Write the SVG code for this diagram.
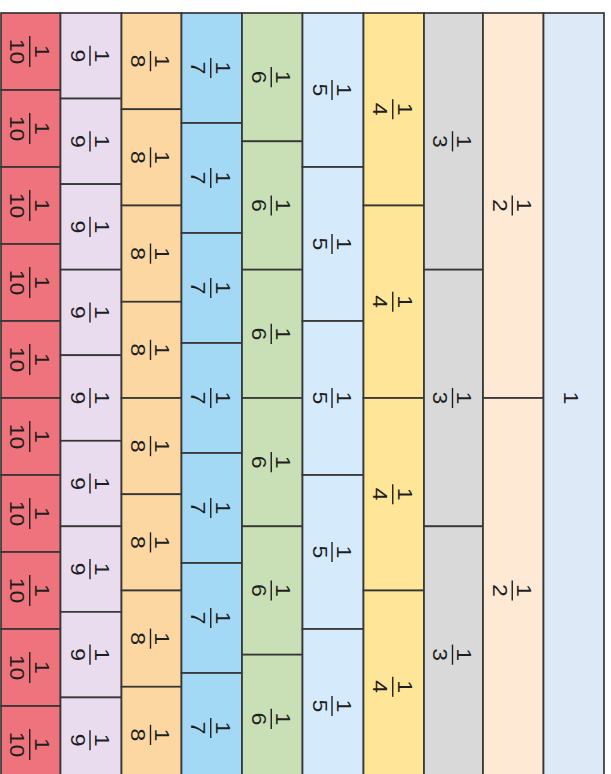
<svg xmlns="http://www.w3.org/2000/svg" width="611" height="774" viewBox="0 0 611 774">
<style>
rect{stroke:#363636;stroke-width:1.7}
.f10{fill:#EE737C}.f9{fill:#E8DCEE}.f8{fill:#FDD7A2}.f7{fill:#A3D9F5}.f6{fill:#C9DFB5}
.f5{fill:#D5EBFB}.f4{fill:#FEE597}.f3{fill:#D9D9D9}.f2{fill:#FEEAD4}.f1{fill:#DEE9F7}
text{font-family:"Liberation Sans",Arial,sans-serif;font-size:20px;text-anchor:middle;fill:#1e1e1e}
.bar{stroke:#1e1e1e;stroke-width:1.4}
</style>
<rect width="611" height="774" fill="#ffffff" style="stroke:none"/>
<g id="col10">
<g id="c10-1"><rect class="f10" x="1" y="13" width="59.5" height="77"/><g transform="translate(30.75,51.5) rotate(90) scale(1.15,1)"><line class="bar" x1="-13.5" y1="1" x2="13.5" y2="1"/><text y="-4">1</text><text y="20.5">10</text></g></g>
<g id="c10-2"><rect class="f10" x="1" y="90" width="59.5" height="77"/><g transform="translate(30.75,128.5) rotate(90) scale(1.15,1)"><line class="bar" x1="-13.5" y1="1" x2="13.5" y2="1"/><text y="-4">1</text><text y="20.5">10</text></g></g>
<g id="c10-3"><rect class="f10" x="1" y="167" width="59.5" height="77"/><g transform="translate(30.75,205.5) rotate(90) scale(1.15,1)"><line class="bar" x1="-13.5" y1="1" x2="13.5" y2="1"/><text y="-4">1</text><text y="20.5">10</text></g></g>
<g id="c10-4"><rect class="f10" x="1" y="244" width="59.5" height="77"/><g transform="translate(30.75,282.5) rotate(90) scale(1.15,1)"><line class="bar" x1="-13.5" y1="1" x2="13.5" y2="1"/><text y="-4">1</text><text y="20.5">10</text></g></g>
<g id="c10-5"><rect class="f10" x="1" y="321" width="59.5" height="77"/><g transform="translate(30.75,359.5) rotate(90) scale(1.15,1)"><line class="bar" x1="-13.5" y1="1" x2="13.5" y2="1"/><text y="-4">1</text><text y="20.5">10</text></g></g>
<g id="c10-6"><rect class="f10" x="1" y="398" width="59.5" height="77"/><g transform="translate(30.75,436.5) rotate(90) scale(1.15,1)"><line class="bar" x1="-13.5" y1="1" x2="13.5" y2="1"/><text y="-4">1</text><text y="20.5">10</text></g></g>
<g id="c10-7"><rect class="f10" x="1" y="475" width="59.5" height="77"/><g transform="translate(30.75,513.5) rotate(90) scale(1.15,1)"><line class="bar" x1="-13.5" y1="1" x2="13.5" y2="1"/><text y="-4">1</text><text y="20.5">10</text></g></g>
<g id="c10-8"><rect class="f10" x="1" y="552" width="59.5" height="77"/><g transform="translate(30.75,590.5) rotate(90) scale(1.15,1)"><line class="bar" x1="-13.5" y1="1" x2="13.5" y2="1"/><text y="-4">1</text><text y="20.5">10</text></g></g>
<g id="c10-9"><rect class="f10" x="1" y="629" width="59.5" height="77"/><g transform="translate(30.75,667.5) rotate(90) scale(1.15,1)"><line class="bar" x1="-13.5" y1="1" x2="13.5" y2="1"/><text y="-4">1</text><text y="20.5">10</text></g></g>
<g id="c10-10"><rect class="f10" x="1" y="706" width="59.5" height="77"/><g transform="translate(30.75,744.5) rotate(90) scale(1.15,1)"><line class="bar" x1="-13.5" y1="1" x2="13.5" y2="1"/><text y="-4">1</text><text y="20.5">10</text></g></g>
</g>
<g id="col9">
<g id="c9-1"><rect class="f9" x="60.5" y="13" width="61" height="85.56"/><g transform="translate(91,55.78) rotate(90) scale(1.15,1)"><line class="bar" x1="-8.75" y1="1" x2="8.75" y2="1"/><text y="-4">1</text><text y="20.5">9</text></g></g>
<g id="c9-2"><rect class="f9" x="60.5" y="98.56" width="61" height="85.56"/><g transform="translate(91,141.33) rotate(90) scale(1.15,1)"><line class="bar" x1="-8.75" y1="1" x2="8.75" y2="1"/><text y="-4">1</text><text y="20.5">9</text></g></g>
<g id="c9-3"><rect class="f9" x="60.5" y="184.11" width="61" height="85.56"/><g transform="translate(91,226.89) rotate(90) scale(1.15,1)"><line class="bar" x1="-8.75" y1="1" x2="8.75" y2="1"/><text y="-4">1</text><text y="20.5">9</text></g></g>
<g id="c9-4"><rect class="f9" x="60.5" y="269.67" width="61" height="85.56"/><g transform="translate(91,312.44) rotate(90) scale(1.15,1)"><line class="bar" x1="-8.75" y1="1" x2="8.75" y2="1"/><text y="-4">1</text><text y="20.5">9</text></g></g>
<g id="c9-5"><rect class="f9" x="60.5" y="355.22" width="61" height="85.56"/><g transform="translate(91,398) rotate(90) scale(1.15,1)"><line class="bar" x1="-8.75" y1="1" x2="8.75" y2="1"/><text y="-4">1</text><text y="20.5">9</text></g></g>
<g id="c9-6"><rect class="f9" x="60.5" y="440.78" width="61" height="85.56"/><g transform="translate(91,483.56) rotate(90) scale(1.15,1)"><line class="bar" x1="-8.75" y1="1" x2="8.75" y2="1"/><text y="-4">1</text><text y="20.5">9</text></g></g>
<g id="c9-7"><rect class="f9" x="60.5" y="526.33" width="61" height="85.56"/><g transform="translate(91,569.11) rotate(90) scale(1.15,1)"><line class="bar" x1="-8.75" y1="1" x2="8.75" y2="1"/><text y="-4">1</text><text y="20.5">9</text></g></g>
<g id="c9-8"><rect class="f9" x="60.5" y="611.89" width="61" height="85.56"/><g transform="translate(91,654.67) rotate(90) scale(1.15,1)"><line class="bar" x1="-8.75" y1="1" x2="8.75" y2="1"/><text y="-4">1</text><text y="20.5">9</text></g></g>
<g id="c9-9"><rect class="f9" x="60.5" y="697.44" width="61" height="85.56"/><g transform="translate(91,740.22) rotate(90) scale(1.15,1)"><line class="bar" x1="-8.75" y1="1" x2="8.75" y2="1"/><text y="-4">1</text><text y="20.5">9</text></g></g>
</g>
<g id="col8">
<g id="c8-1"><rect class="f8" x="121.5" y="13" width="60" height="96.25"/><g transform="translate(151.5,61.13) rotate(90) scale(1.15,1)"><line class="bar" x1="-8.75" y1="1" x2="8.75" y2="1"/><text y="-4">1</text><text y="20.5">8</text></g></g>
<g id="c8-2"><rect class="f8" x="121.5" y="109.25" width="60" height="96.25"/><g transform="translate(151.5,157.38) rotate(90) scale(1.15,1)"><line class="bar" x1="-8.75" y1="1" x2="8.75" y2="1"/><text y="-4">1</text><text y="20.5">8</text></g></g>
<g id="c8-3"><rect class="f8" x="121.5" y="205.5" width="60" height="96.25"/><g transform="translate(151.5,253.63) rotate(90) scale(1.15,1)"><line class="bar" x1="-8.75" y1="1" x2="8.75" y2="1"/><text y="-4">1</text><text y="20.5">8</text></g></g>
<g id="c8-4"><rect class="f8" x="121.5" y="301.75" width="60" height="96.25"/><g transform="translate(151.5,349.88) rotate(90) scale(1.15,1)"><line class="bar" x1="-8.75" y1="1" x2="8.75" y2="1"/><text y="-4">1</text><text y="20.5">8</text></g></g>
<g id="c8-5"><rect class="f8" x="121.5" y="398" width="60" height="96.25"/><g transform="translate(151.5,446.13) rotate(90) scale(1.15,1)"><line class="bar" x1="-8.75" y1="1" x2="8.75" y2="1"/><text y="-4">1</text><text y="20.5">8</text></g></g>
<g id="c8-6"><rect class="f8" x="121.5" y="494.25" width="60" height="96.25"/><g transform="translate(151.5,542.38) rotate(90) scale(1.15,1)"><line class="bar" x1="-8.75" y1="1" x2="8.75" y2="1"/><text y="-4">1</text><text y="20.5">8</text></g></g>
<g id="c8-7"><rect class="f8" x="121.5" y="590.5" width="60" height="96.25"/><g transform="translate(151.5,638.63) rotate(90) scale(1.15,1)"><line class="bar" x1="-8.75" y1="1" x2="8.75" y2="1"/><text y="-4">1</text><text y="20.5">8</text></g></g>
<g id="c8-8"><rect class="f8" x="121.5" y="686.75" width="60" height="96.25"/><g transform="translate(151.5,734.88) rotate(90) scale(1.15,1)"><line class="bar" x1="-8.75" y1="1" x2="8.75" y2="1"/><text y="-4">1</text><text y="20.5">8</text></g></g>
</g>
<g id="col7">
<g id="c7-1"><rect class="f7" x="181.5" y="13" width="60.5" height="110"/><g transform="translate(211.75,68) rotate(90) scale(1.15,1)"><line class="bar" x1="-8.75" y1="1" x2="8.75" y2="1"/><text y="-4">1</text><text y="20.5">7</text></g></g>
<g id="c7-2"><rect class="f7" x="181.5" y="123" width="60.5" height="110"/><g transform="translate(211.75,178) rotate(90) scale(1.15,1)"><line class="bar" x1="-8.75" y1="1" x2="8.75" y2="1"/><text y="-4">1</text><text y="20.5">7</text></g></g>
<g id="c7-3"><rect class="f7" x="181.5" y="233" width="60.5" height="110"/><g transform="translate(211.75,288) rotate(90) scale(1.15,1)"><line class="bar" x1="-8.75" y1="1" x2="8.75" y2="1"/><text y="-4">1</text><text y="20.5">7</text></g></g>
<g id="c7-4"><rect class="f7" x="181.5" y="343" width="60.5" height="110"/><g transform="translate(211.75,398) rotate(90) scale(1.15,1)"><line class="bar" x1="-8.75" y1="1" x2="8.75" y2="1"/><text y="-4">1</text><text y="20.5">7</text></g></g>
<g id="c7-5"><rect class="f7" x="181.5" y="453" width="60.5" height="110"/><g transform="translate(211.75,508) rotate(90) scale(1.15,1)"><line class="bar" x1="-8.75" y1="1" x2="8.75" y2="1"/><text y="-4">1</text><text y="20.5">7</text></g></g>
<g id="c7-6"><rect class="f7" x="181.5" y="563" width="60.5" height="110"/><g transform="translate(211.75,618) rotate(90) scale(1.15,1)"><line class="bar" x1="-8.75" y1="1" x2="8.75" y2="1"/><text y="-4">1</text><text y="20.5">7</text></g></g>
<g id="c7-7"><rect class="f7" x="181.5" y="673" width="60.5" height="110"/><g transform="translate(211.75,728) rotate(90) scale(1.15,1)"><line class="bar" x1="-8.75" y1="1" x2="8.75" y2="1"/><text y="-4">1</text><text y="20.5">7</text></g></g>
</g>
<g id="col6">
<g id="c6-1"><rect class="f6" x="242" y="13" width="60.5" height="128.33"/><g transform="translate(272.25,77.17) rotate(90) scale(1.15,1)"><line class="bar" x1="-8.75" y1="1" x2="8.75" y2="1"/><text y="-4">1</text><text y="20.5">6</text></g></g>
<g id="c6-2"><rect class="f6" x="242" y="141.33" width="60.5" height="128.33"/><g transform="translate(272.25,205.5) rotate(90) scale(1.15,1)"><line class="bar" x1="-8.75" y1="1" x2="8.75" y2="1"/><text y="-4">1</text><text y="20.5">6</text></g></g>
<g id="c6-3"><rect class="f6" x="242" y="269.67" width="60.5" height="128.33"/><g transform="translate(272.25,333.83) rotate(90) scale(1.15,1)"><line class="bar" x1="-8.75" y1="1" x2="8.75" y2="1"/><text y="-4">1</text><text y="20.5">6</text></g></g>
<g id="c6-4"><rect class="f6" x="242" y="398" width="60.5" height="128.33"/><g transform="translate(272.25,462.17) rotate(90) scale(1.15,1)"><line class="bar" x1="-8.75" y1="1" x2="8.75" y2="1"/><text y="-4">1</text><text y="20.5">6</text></g></g>
<g id="c6-5"><rect class="f6" x="242" y="526.33" width="60.5" height="128.33"/><g transform="translate(272.25,590.5) rotate(90) scale(1.15,1)"><line class="bar" x1="-8.75" y1="1" x2="8.75" y2="1"/><text y="-4">1</text><text y="20.5">6</text></g></g>
<g id="c6-6"><rect class="f6" x="242" y="654.67" width="60.5" height="128.33"/><g transform="translate(272.25,718.83) rotate(90) scale(1.15,1)"><line class="bar" x1="-8.75" y1="1" x2="8.75" y2="1"/><text y="-4">1</text><text y="20.5">6</text></g></g>
</g>
<g id="col5">
<g id="c5-1"><rect class="f5" x="302.5" y="13" width="61" height="154"/><g transform="translate(333,90) rotate(90) scale(1.15,1)"><line class="bar" x1="-8.75" y1="1" x2="8.75" y2="1"/><text y="-4">1</text><text y="20.5">5</text></g></g>
<g id="c5-2"><rect class="f5" x="302.5" y="167" width="61" height="154"/><g transform="translate(333,244) rotate(90) scale(1.15,1)"><line class="bar" x1="-8.75" y1="1" x2="8.75" y2="1"/><text y="-4">1</text><text y="20.5">5</text></g></g>
<g id="c5-3"><rect class="f5" x="302.5" y="321" width="61" height="154"/><g transform="translate(333,398) rotate(90) scale(1.15,1)"><line class="bar" x1="-8.75" y1="1" x2="8.75" y2="1"/><text y="-4">1</text><text y="20.5">5</text></g></g>
<g id="c5-4"><rect class="f5" x="302.5" y="475" width="61" height="154"/><g transform="translate(333,552) rotate(90) scale(1.15,1)"><line class="bar" x1="-8.75" y1="1" x2="8.75" y2="1"/><text y="-4">1</text><text y="20.5">5</text></g></g>
<g id="c5-5"><rect class="f5" x="302.5" y="629" width="61" height="154"/><g transform="translate(333,706) rotate(90) scale(1.15,1)"><line class="bar" x1="-8.75" y1="1" x2="8.75" y2="1"/><text y="-4">1</text><text y="20.5">5</text></g></g>
</g>
<g id="col4">
<g id="c4-1"><rect class="f4" x="363.5" y="13" width="60.5" height="192.5"/><g transform="translate(393.75,109.25) rotate(90) scale(1.15,1)"><line class="bar" x1="-8.75" y1="1" x2="8.75" y2="1"/><text y="-4">1</text><text y="20.5">4</text></g></g>
<g id="c4-2"><rect class="f4" x="363.5" y="205.5" width="60.5" height="192.5"/><g transform="translate(393.75,301.75) rotate(90) scale(1.15,1)"><line class="bar" x1="-8.75" y1="1" x2="8.75" y2="1"/><text y="-4">1</text><text y="20.5">4</text></g></g>
<g id="c4-3"><rect class="f4" x="363.5" y="398" width="60.5" height="192.5"/><g transform="translate(393.75,494.25) rotate(90) scale(1.15,1)"><line class="bar" x1="-8.75" y1="1" x2="8.75" y2="1"/><text y="-4">1</text><text y="20.5">4</text></g></g>
<g id="c4-4"><rect class="f4" x="363.5" y="590.5" width="60.5" height="192.5"/><g transform="translate(393.75,686.75) rotate(90) scale(1.15,1)"><line class="bar" x1="-8.75" y1="1" x2="8.75" y2="1"/><text y="-4">1</text><text y="20.5">4</text></g></g>
</g>
<g id="col3">
<g id="c3-1"><rect class="f3" x="424" y="13" width="59" height="256.67"/><g transform="translate(453.5,141.33) rotate(90) scale(1.15,1)"><line class="bar" x1="-8.75" y1="1" x2="8.75" y2="1"/><text y="-4">1</text><text y="20.5">3</text></g></g>
<g id="c3-2"><rect class="f3" x="424" y="269.67" width="59" height="256.67"/><g transform="translate(453.5,398) rotate(90) scale(1.15,1)"><line class="bar" x1="-8.75" y1="1" x2="8.75" y2="1"/><text y="-4">1</text><text y="20.5">3</text></g></g>
<g id="c3-3"><rect class="f3" x="424" y="526.33" width="59" height="256.67"/><g transform="translate(453.5,654.67) rotate(90) scale(1.15,1)"><line class="bar" x1="-8.75" y1="1" x2="8.75" y2="1"/><text y="-4">1</text><text y="20.5">3</text></g></g>
</g>
<g id="col2">
<g id="c2-1"><rect class="f2" x="483" y="13" width="60.5" height="385"/><g transform="translate(513.25,205.5) rotate(90) scale(1.15,1)"><line class="bar" x1="-8.75" y1="1" x2="8.75" y2="1"/><text y="-4">1</text><text y="20.5">2</text></g></g>
<g id="c2-2"><rect class="f2" x="483" y="398" width="60.5" height="385"/><g transform="translate(513.25,590.5) rotate(90) scale(1.15,1)"><line class="bar" x1="-8.75" y1="1" x2="8.75" y2="1"/><text y="-4">1</text><text y="20.5">2</text></g></g>
</g>
<g id="col1">
<g id="c1-1"><rect class="f1" x="543.5" y="13" width="60.5" height="770"/><g transform="translate(573.75,398) rotate(90) scale(1.15,1)"><text y="9.5">1</text></g></g>
</g>
<g id="connectors"/>
</svg>
